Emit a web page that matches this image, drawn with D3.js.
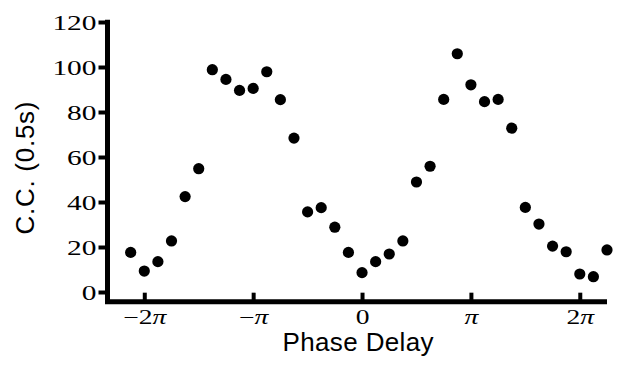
<!DOCTYPE html>
<html>
<head>
<meta charset="utf-8">
<script src="https://cdn.jsdelivr.net/npm/d3@7"></script>
<style>
  html, body { margin: 0; padding: 0; background: #fff; }
</style>
</head>
<body>
<div id="chart"></div>
<script>
// Phase delay, in multiples of pi (steps of pi/8)
const phases = [-17, -16, -15, -14, -13, -12, -11, -10, -9, -8, -7, -6, -5, -4, -3, -2, -1,
  0, 1, 2, 3, 4, 5, 6, 7, 8, 9, 10, 11, 12, 13, 14, 15, 16, 17, 18].map(k => k / 8);

// C.C. (0.5s) values
const ccValues = [17.6, 9.3, 13.5, 22.7, 42.4, 54.8, 98.8, 94.5, 89.6, 90.5, 97.9, 85.5, 68.4,
  35.6, 37.5, 28.8, 17.6, 8.6, 13.5, 16.9, 22.7, 48.9, 55.9, 85.6, 105.9, 92.1, 84.6, 85.6,
  72.8, 37.6, 30.2, 20.4, 17.9, 8, 6.8, 18.7];

const yTicks = [0, 20, 40, 60, 80, 100, 120];
const xTicks = [-2, -1, 0, 1, 2];
const xTickLabels = ["\u22122", "\u2212", "0", "", "2"]; // pi glyph appended below

const width = 619;
const height = 371;

const svg = d3.select("#chart")
  .append("svg")
  .attr("width", width)
  .attr("height", height);

// Scales
const x = d3.scaleLinear()
  .domain([-2.37, 2.25])
  .range([104, 607]);

const y = d3.scaleLinear()
  .domain([0, 120])
  .range([292, 22]);

const serif = "'Liberation Serif', 'Times New Roman', serif";
const sans = "'Liberation Sans', Arial, Helvetica, sans-serif";

// stretch text horizontally like the scanned figure
function stretch(sel, factor) {
  sel.each(function () {
    const w = this.getComputedTextLength();
    d3.select(this)
      .attr("textLength", w * factor)
      .attr("lengthAdjust", "spacingAndGlyphs");
  });
}

// Y axis
const yAxis = svg.append("g")
  .attr("transform", `translate(${x(-2.37) + 3.5}, 0)`)
  .call(d3.axisLeft(y).tickValues(yTicks).tickSize(9).tickPadding(2));

yAxis.select(".domain").remove();
yAxis.selectAll(".tick line")
  .attr("stroke", "#000")
  .attr("stroke-width", 4);
yAxis.selectAll(".tick text")
  .attr("fill", "#000")
  .style("font-family", serif)
  .style("font-size", "21px")
  .attr("dy", "0.36em")
  .call(stretch, 1.4);

// X axis (ticks point inward)
const xAxis = svg.append("g")
  .attr("transform", `translate(0, ${y(-4.3)})`)
  .call(d3.axisBottom(x).tickValues(xTicks).tickSizeInner(-9).tickSizeOuter(0).tickPadding(20)
    .tickFormat((d, i) => xTickLabels[i]));

xAxis.select(".domain").remove();
xAxis.selectAll(".tick line")
  .attr("stroke", "#000")
  .attr("stroke-width", 4);
xAxis.selectAll(".tick text")
  .attr("fill", "#000")
  .style("font-family", serif)
  .style("font-size", "20px")
  .attr("y", 22)
  .attr("dy", 0)
  .each(function (d) {
    if (d !== 0) {
      d3.select(this).append("tspan")
        .style("font-style", "italic")
        .text("\u03c0");
    }
  })
  .call(stretch, 1.38);

// Axis lines
svg.append("line")
  .attr("x1", x(-2.37) + 3.5).attr("x2", x(-2.37) + 3.5)
  .attr("y1", y(121)).attr("y2", y(-5.2))
  .attr("stroke", "#000")
  .attr("stroke-width", 5);

svg.append("line")
  .attr("x1", x(-2.37) + 1).attr("x2", x(2.25))
  .attr("y1", y(-4.3)).attr("y2", y(-4.3))
  .attr("stroke", "#000")
  .attr("stroke-width", 5);

// Points
svg.selectAll("circle")
  .data(phases.map((p, i) => ({ phase: p, cc: ccValues[i] })))
  .enter()
  .append("circle")
  .attr("cx", d => x(d.phase))
  .attr("cy", d => y(d.cc))
  .attr("r", 5.6)
  .attr("fill", "#000");

// Axis titles
svg.append("text")
  .attr("x", x(0) - 4)
  .attr("y", 351)
  .style("text-anchor", "middle")
  .style("font-family", sans)
  .style("font-size", "26px")
  .attr("fill", "#000")
  .attr("textLength", 151)
  .text("Phase Delay");

svg.append("text")
  .attr("transform", "translate(34, 168) rotate(-90)")
  .style("text-anchor", "middle")
  .style("font-family", sans)
  .style("font-size", "26px")
  .attr("fill", "#000")
  .attr("textLength", 133)
  .text("C.C. (0.5s)");
</script>
</body>
</html>
